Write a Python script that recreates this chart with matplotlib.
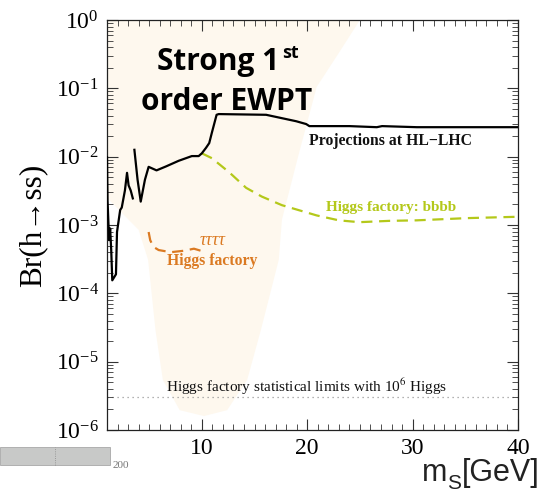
import matplotlib
matplotlib.use("Agg")
import matplotlib.pyplot as plt
from matplotlib.patches import Rectangle
from matplotlib.ticker import LogLocator, MultipleLocator, NullFormatter

plt.rcParams['font.family'] = ['Liberation Serif', 'DejaVu Serif']
plt.rcParams['mathtext.fontset'] = 'stix'

# HL-LHC projection (two pieces, gap near 3.5 GeV)
hl_x_a = [1.0, 1.05, 1.2, 1.3, 1.4, 1.5, 1.85, 1.95, 2.25, 2.4, 2.7, 2.9, 3.05, 3.25, 3.45]
hl_y_a = [9.8e-3, 2.3e-3, 6.0e-4, 8.9e-4, 4.3e-4, 1.55e-4, 1.9e-4, 7.9e-4, 1.66e-3, 1.8e-3,
          3.2e-3, 5.8e-3, 3.8e-3, 3.2e-3, 2.45e-3]
hl_x_b = [3.6, 3.9, 4.2, 4.6, 4.95, 5.7, 6.6, 7.8, 9.05, 9.7, 10.0, 10.4, 10.7, 10.95,
          11.4, 11.6, 16.1, 18.95, 19.9, 20.2, 24.0, 26.6, 27.1, 30.4, 40.0]
hl_y_b = [1.26e-2, 4.6e-3, 2.2e-3, 4.6e-3, 7.1e-3, 6.3e-3, 7.2e-3, 8.7e-3, 1.02e-2, 1.02e-2,
          1.12e-2, 1.35e-2, 1.58e-2, 2.24e-2, 4.1e-2, 4.2e-2, 4.1e-2, 3.3e-2, 3.0e-2, 2.8e-2,
          2.8e-2, 2.7e-2, 2.8e-2, 2.7e-2, 2.7e-2]

# Higgs factory bbbb
bb_x = [10.0, 10.95, 12.6, 14.2, 15.7, 17.6, 20.9, 23.0, 24.95, 27.8, 30.4, 35.1, 40.0]
bb_y = [1.12e-2, 9.5e-3, 5.9e-3, 3.5e-3, 2.6e-3, 1.95e-3, 1.38e-3, 1.17e-3, 1.1e-3,
        1.15e-3, 1.17e-3, 1.26e-3, 1.32e-3]

# Higgs factory tau tau tau tau
tt_x = [4.95, 5.1, 5.4, 5.9, 7.05, 8.3, 9.25, 9.9]
tt_y = [7.9e-4, 6.0e-4, 4.8e-4, 4.3e-4, 4.0e-4, 4.2e-4, 4.5e-4, 4.2e-4]

# statistical limit with 1e6 Higgs
stat_limit = 3.0e-6

# strong first-order EWPT region outline
ewpt_x = [1, 25, 23, 20.9, 19.2, 17.6, 17.3, 15.6, 14.3, 12.4, 10.2, 7.9, 6.3, 5.6, 4.9, 4.0, 1]
ewpt_y = [1, 1, 3.3e-1, 1.05e-1, 1.1e-2, 1.2e-3, 3.1e-4, 2.9e-5, 5.4e-6, 1.95e-6, 1.6e-6,
          1.95e-6, 5.4e-6, 2.9e-5, 3.1e-4, 8.5e-4, 2.5e-3]

W, H = 540, 497
fig = plt.figure(figsize=(W / 100, H / 100), dpi=100)
ax = fig.add_axes([107 / W, 1 - 430 / H, 411 / W, 410 / H])

ax.fill(ewpt_x, ewpt_y, color='#fef8ee', lw=0, zorder=0)
ax.axhline(stat_limit, color='#999999', ls=(0, (1, 3)), lw=0.9, zorder=1)
ax.plot(hl_x_a, hl_y_a, color='black', lw=1.6, zorder=3)
ax.plot(hl_x_b, hl_y_b, color='black', lw=1.6, zorder=3)
ax.plot(bb_x, bb_y, color='#b4c81a', lw=1.6, ls=(0, (5, 3)), zorder=2)
ax.plot(tt_x, tt_y, color='#db7a22', lw=1.6, ls=(0, (5, 3)), zorder=2)

ax.set_yscale('log')
ax.set_xlim(1, 40)
ax.set_ylim(1e-6, 1)
ax.set_xticks([10, 20, 30, 40])
ax.xaxis.set_minor_locator(MultipleLocator(1))
ax.yaxis.set_major_locator(LogLocator(base=10, numticks=10))
ax.yaxis.set_minor_locator(LogLocator(base=10, subs=range(2, 10), numticks=20))
ax.yaxis.set_minor_formatter(NullFormatter())
ax.tick_params(which='both', direction='in', top=True, right=True, color='#333333')
ax.tick_params(which='major', length=8, width=0.8, labelsize=17, pad=6)
ax.tick_params(which='minor', length=4, width=0.6)
for s in ax.spines.values():
    s.set_linewidth(0.9)
    s.set_color('#222222')

ax.set_ylabel('Br(h→ss)', fontsize=22.5, labelpad=6)

ax.text(27.9, 1.7e-2, 'Projections at HL−LHC', fontsize=11.3, fontweight='bold',
        ha='center', va='center', color='#111111')
ax.text(28.0, 1.8e-3, 'Higgs factory: bbbb', fontsize=11, fontweight='bold',
        ha='center', va='center', color='#b4c81a')
ax.text(10.95, 2.95e-4, 'Higgs factory', fontsize=11.3, fontweight='bold',
        ha='center', va='center', color='#db7a22')
ax.text(11.05, 5.9e-4, 'ττττ', fontsize=13, style='italic',
        ha='center', va='center', color='#db7a22')
ax.text(19.95, 4.3e-6, 'Higgs factory statistical limits with 10$^6$ Higgs', fontsize=11,
        ha='center', va='center', color='#111111')

renderer = fig.canvas.get_renderer()
to_fig = fig.transFigure.inverted()

# headline annotation
sans = ['Open Sans', 'DejaVu Sans']
t1 = fig.text(157 / W, 1 - 70 / H, 'Strong 1', family=sans, fontsize=21.5, fontweight='bold',
              va='baseline', ha='left')
x_end = to_fig.transform(t1.get_window_extent(renderer).corners()[-1])[0]
fig.text(x_end + 3 / W, 1 - 58 / H, 'st', family=sans, fontsize=13, fontweight='bold',
         va='baseline', ha='left')
fig.text(141 / W, 1 - 110 / H, 'order EWPT', family=sans, fontsize=21.5, fontweight='bold',
         va='baseline', ha='left')

# axis title in the lower right: m, subscript S, [GeV]
lab_col = '#222222'
lab_font = ['Liberation Sans', 'DejaVu Sans']
tm = fig.text(422 / W, 1 - 481 / H, 'm', family=lab_font, fontsize=22, va='baseline',
              ha='left', color=lab_col)
xm = to_fig.transform(tm.get_window_extent(renderer).corners()[-1])[0]
ts = fig.text(xm, 1 - 489 / H, 'S', family=lab_font, fontsize=15, va='baseline',
              ha='left', color=lab_col)
xs = to_fig.transform(ts.get_window_extent(renderer).corners()[-1])[0]
fig.text(xs, 1 - 481 / H, '[GeV]', family=lab_font, fontsize=22, va='baseline',
         ha='left', color=lab_col)

# grey strip at the lower left
fig.patches.append(Rectangle((0, 1 - 465 / H), 110 / W, 18 / H, transform=fig.transFigure,
                             facecolor='#c8c9c8', edgecolor='#a8a8a8', lw=0.6))
fig.lines.append(plt.Line2D([55 / W, 55 / W], [1 - 465 / H, 1 - 447 / H],
                            transform=fig.transFigure, color='#888888', lw=0.6, ls=':'))
fig.text(113 / W, 1 - 468 / H, '200', fontsize=8, color='#777777', va='baseline')

fig.savefig('out.png', dpi=100, facecolor='white')
